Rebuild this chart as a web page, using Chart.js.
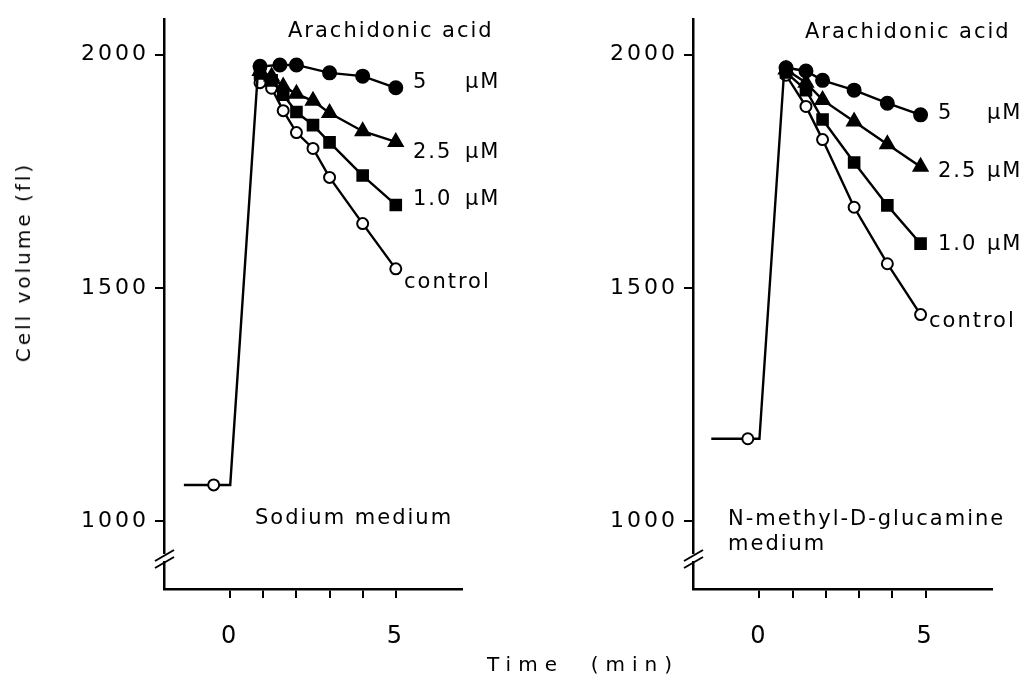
<!DOCTYPE html>
<html>
<head>
<meta charset="utf-8">
<script src="https://cdn.jsdelivr.net/npm/chart.js@4.4.1/dist/chart.umd.min.js"></script>
<style>
  html, body { margin: 0; padding: 0; background: #fff; }
  #wrap { position: relative; width: 1028px; height: 680px; overflow: hidden; }
  canvas { position: absolute; top: 0; }
  #left { left: 0; }
  #right { left: 514px; }
  .title { position: absolute; font-family: 'DejaVu Sans', sans-serif; font-size: 20px;
           color: #000; white-space: pre; transform: translate(-50%, -50%); }
  #ytitle { left: 23px; top: 262px; letter-spacing: 3px; transform: translate(-50%, -50%) rotate(-90deg); }
  #xtitle { left: 583px; top: 664px; letter-spacing: 7px; }
</style>
</head>
<body>
<div id="wrap">
  <canvas id="left" width="514" height="680" style="width:514px;height:680px"></canvas>
  <canvas id="right" width="514" height="680" style="width:514px;height:680px"></canvas>
  <div class="title" id="ytitle">Cell volume (fl)</div>
  <div class="title" id="xtitle">Time  (min)</div>
</div>
<script>
// axis ticks
const xTicks = [0, 1, 2, 3, 4, 5];
const xLabels = [0, 5];
const yTicks = [1000, 1500, 2000];

// sodium medium (left)
const leftBaseT = [-1.4, -0.5, 0, 0.85];
const leftBaseV = [1078, 1078, 1078, 1978];
const leftT5 = [0.9, 1.5, 2, 3, 4, 5];
const leftV5 = [1975, 1978, 1978, 1961, 1954, 1929];
const leftT = [0.9, 1.25, 1.6, 2, 2.5, 3, 4, 5];
const leftV25 = [1965, 1953, 1932, 1916, 1901, 1875, 1836, 1813];
const leftV10 = [1960, 1945, 1914, 1877, 1849, 1812, 1741, 1678];
const leftVctl = [1940, 1928, 1880, 1833, 1799, 1737, 1638, 1541];

// N-methyl-D-glucamine medium (right)
const rightBaseT = [-1.45, -0.35, 0, 0.75];
const rightBaseV = [1177, 1177, 1177, 1972];
const rightT = [0.8, 1.4, 1.9, 2.85, 3.85, 4.85];
const rightV5 = [1972, 1965, 1945, 1924, 1896, 1871];
const rightV25 = [1968, 1940, 1903, 1857, 1808, 1760];
const rightV10 = [1962, 1924, 1861, 1769, 1677, 1595];
const rightVctl = [1956, 1889, 1818, 1673, 1552, 1443];

const INK = '#000';
const FONT = "'DejaVu Sans', sans-serif";
const TICK_LS = '3px';
const NOTE_LS = '2px';

function pts(t, v) {
  return t.map((x, i) => ({ x: x, y: v[i] }));
}

function series(t, v, style, radius, fill) {
  return {
    data: pts(t, v),
    borderColor: INK,
    borderWidth: 2.4,
    pointStyle: style,
    pointRadius: radius,
    pointBorderWidth: 2,
    pointBorderColor: INK,
    pointBackgroundColor: fill ? INK : '#fff',
    tension: 0
  };
}

const panelPlugin = {
  id: 'panel',
  beforeLayout(chart) { chart.ctx.letterSpacing = TICK_LS; },
  beforeDraw(chart) { chart.ctx.letterSpacing = TICK_LS; },
  afterDraw(chart, args, opts) {
    const ctx = chart.ctx;
    const x = chart.chartArea.left;
    ctx.save();
    // axis break
    ctx.fillStyle = '#fff';
    ctx.fillRect(x - 2, 554, 4, 7);
    ctx.strokeStyle = INK;
    ctx.lineWidth = 2;
    ctx.beginPath();
    ctx.moveTo(x - 9, 561); ctx.lineTo(x + 10, 550);
    ctx.moveTo(x - 9, 568); ctx.lineTo(x + 10, 557);
    ctx.stroke();
    // text labels
    ctx.fillStyle = INK;
    ctx.font = '21px ' + FONT;
    ctx.letterSpacing = NOTE_LS;
    ctx.textBaseline = 'middle';
    ctx.textAlign = 'left';
    opts.notes.forEach(n => ctx.fillText(n[0], n[1] - opts.offset, n[2]));
    ctx.restore();
  }
};

function makePanel(id, offset, area, datasets, notes) {
  const W = 514;
  return new Chart(document.getElementById(id), {
    type: 'line',
    data: { datasets: datasets },
    plugins: [panelPlugin],
    options: {
      responsive: false,
      animation: false,
      layout: { padding: { top: area.top, right: W - (area.right - offset), bottom: 0, left: 0 } },
      plugins: {
        legend: { display: false },
        tooltip: { enabled: false },
        panel: { notes: notes, offset: offset }
      },
      scales: {
        x: {
          type: 'linear', min: -2, max: 7,
          afterBuildTicks: s => { s.ticks = xTicks.map(v => ({ value: v })); },
          afterFit: s => { s.height = 680 - area.bottom; },
          ticks: {
            color: INK, padding: 24, maxRotation: 0,
            font: { family: FONT, size: 24 },
            callback: v => xLabels.includes(v) ? String(v) : ''
          },
          grid: { drawOnChartArea: false, tickLength: 9, lineWidth: 2, tickColor: INK },
          border: { color: INK, width: 2.5 }
        },
        y: {
          min: 855, max: 2076,
          afterBuildTicks: s => { s.ticks = yTicks.map(v => ({ value: v })); },
          afterFit: s => { s.width = area.left - offset; },
          ticks: {
            color: INK, padding: 6,
            font: { family: FONT, size: 22 },
            callback: v => String(v)
          },
          grid: { drawOnChartArea: false, tickLength: 9, lineWidth: 2, tickColor: INK },
          border: { color: INK, width: 2.5 }
        }
      }
    }
  });
}

makePanel('left', 0, { left: 164, right: 462, top: 12, bottom: 589 }, [
  series(leftBaseT, leftBaseV, 'circle', [0, 5.5, 0, 0], false),
  series(leftT5, leftV5, 'circle', 6.5, true),
  series(leftT, leftV25, 'triangle', 8, true),
  series(leftT, leftV10, 'rect', 7.5, true),
  series(leftT, leftVctl, 'circle', 5.5, false)
], [
  ['Arachidonic acid', 288, 32],
  ['5', 413, 83], ['µM', 465, 83],
  ['2.5', 413, 153], ['µM', 465, 153],
  ['1.0', 413, 200], ['µM', 465, 200],
  ['control', 404, 283],
  ['Sodium medium', 255, 519]
]);

makePanel('right', 514, { left: 693, right: 992, top: 12, bottom: 589 }, [
  series(rightBaseT, rightBaseV, 'circle', [0, 5.5, 0, 0], false),
  series(rightT, rightV5, 'circle', 6.5, true),
  series(rightT, rightV25, 'triangle', 8, true),
  series(rightT, rightV10, 'rect', 7.5, true),
  series(rightT, rightVctl, 'circle', 5.5, false)
], [
  ['Arachidonic acid', 805, 33],
  ['5', 938, 114], ['µM', 987, 114],
  ['2.5', 938, 172], ['µM', 987, 172],
  ['1.0', 938, 245], ['µM', 987, 245],
  ['control', 929, 322],
  ['N-methyl-D-glucamine', 728, 520],
  ['medium', 728, 545]
]);
</script>
</body>
</html>
